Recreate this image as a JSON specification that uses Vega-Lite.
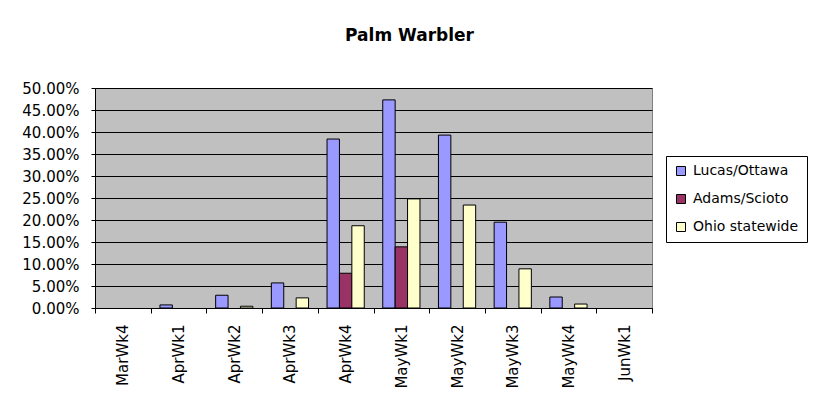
{
  "$schema": "https://vega.github.io/schema/vega-lite/v6.json",
  "autosize": {"type": "none"},
  "padding": {"left": 95, "top": 88, "right": 166, "bottom": 104},
  "width": 557,
  "height": 220,
  "background": "white",
  "title": {
    "text": "Palm Warbler",
    "font": "DejaVu Sans",
    "fontSize": 17,
    "fontWeight": "bold",
    "color": "black",
    "anchor": "middle",
    "frame": "group",
    "dx": 36,
    "baseline": "alphabetic",
    "offset": 23
  },
  "data": {
    "values": [
      {"week": "AprWk1", "series": "Lucas/Ottawa", "value": 0.007},
      {"week": "AprWk2", "series": "Lucas/Ottawa", "value": 0.029},
      {"week": "AprWk2", "series": "Ohio statewide", "value": 0.004},
      {"week": "AprWk3", "series": "Lucas/Ottawa", "value": 0.057},
      {"week": "AprWk3", "series": "Ohio statewide", "value": 0.023},
      {"week": "AprWk4", "series": "Lucas/Ottawa", "value": 0.384},
      {"week": "AprWk4", "series": "Adams/Scioto", "value": 0.079},
      {"week": "AprWk4", "series": "Ohio statewide", "value": 0.187},
      {"week": "MayWk1", "series": "Lucas/Ottawa", "value": 0.473},
      {"week": "MayWk1", "series": "Adams/Scioto", "value": 0.139},
      {"week": "MayWk1", "series": "Ohio statewide", "value": 0.248},
      {"week": "MayWk2", "series": "Lucas/Ottawa", "value": 0.393},
      {"week": "MayWk2", "series": "Ohio statewide", "value": 0.234},
      {"week": "MayWk3", "series": "Lucas/Ottawa", "value": 0.195},
      {"week": "MayWk3", "series": "Ohio statewide", "value": 0.089},
      {"week": "MayWk4", "series": "Lucas/Ottawa", "value": 0.025},
      {"week": "MayWk4", "series": "Ohio statewide", "value": 0.009}
    ]
  },
  "mark": {"type": "bar", "stroke": "black", "strokeWidth": 1},
  "encoding": {
    "x": {
      "field": "week",
      "type": "nominal",
      "scale": {
        "domain": ["MarWk4", "AprWk1", "AprWk2", "AprWk3", "AprWk4", "MayWk1", "MayWk2", "MayWk3", "MayWk4", "JunWk1"],
        "paddingInner": 0,
        "paddingOuter": 0
      },
      "axis": {
        "title": null,
        "labelAngle": 270,
        "labelFont": "DejaVu Sans",
        "labelFontSize": 15,
        "labelColor": "black",
        "labelPadding": 11,
        "tickBand": "extent",
        "tickSize": 5,
        "tickColor": "black",
        "domainColor": "black",
        "grid": false
      }
    },
    "xOffset": {
      "field": "series",
      "type": "nominal",
      "scale": {"domain": ["Lucas/Ottawa", "Adams/Scioto", "Ohio statewide"], "paddingInner": 0, "paddingOuter": 0.745}
    },
    "y": {
      "field": "value",
      "type": "quantitative",
      "scale": {"domain": [0, 0.5], "nice": false},
      "axis": {
        "title": null,
        "format": ".2%",
        "values": [0, 0.05, 0.1, 0.15, 0.2, 0.25, 0.3, 0.35, 0.4, 0.45, 0.5],
        "labelFont": "DejaVu Sans",
        "labelFontSize": 15,
        "labelColor": "black",
        "labelPadding": 12,
        "tickSize": 4,
        "tickColor": "black",
        "domainColor": "black",
        "grid": true,
        "gridColor": "black",
        "gridOpacity": 1,
        "gridWidth": 1
      }
    },
    "color": {
      "field": "series",
      "type": "nominal",
      "scale": {
        "domain": ["Lucas/Ottawa", "Adams/Scioto", "Ohio statewide"],
        "range": ["#9999FF", "#993366", "#FFFFCC"]
      },
      "legend": {
        "title": null,
        "orient": "none",
        "legendX": 571,
        "legendY": 68,
        "padding": 8,
        "rowPadding": 14,
        "strokeColor": "black",
        "fillColor": "white",
        "symbolType": "square",
        "symbolSize": 81,
        "symbolStrokeColor": "black",
        "symbolStrokeWidth": 1,
        "symbolOpacity": 1,
        "labelFont": "DejaVu Sans",
        "labelFontSize": 14,
        "labelColor": "black",
        "labelOffset": 5
      }
    }
  },
  "config": {
    "view": {"fill": "#C0C0C0", "stroke": "#808080"}
  }
}
